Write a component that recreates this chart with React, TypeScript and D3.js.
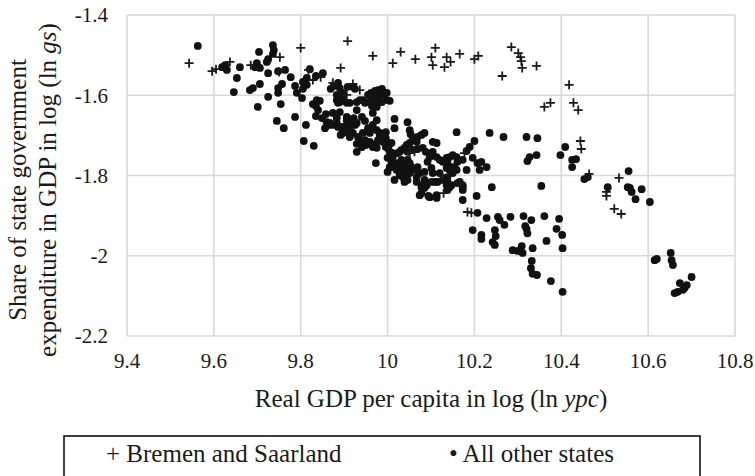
import React from "react";
import * as d3 from "d3";

// axis ticks
const xTicks = [9.4, 9.6, 9.8, 10, 10.2, 10.4, 10.6, 10.8];
const yTicks = [-1.4, -1.6, -1.8, -2, -2.2];

// [ln ypc, ln gs] for Bremen and Saarland
const bremenSaarland: [number, number][] = [
  [9.543, -1.52], [9.596, -1.54], [9.605, -1.535], [9.637, -1.517], [9.685, -1.525],
  [9.752, -1.505], [9.75, -1.542], [9.8, -1.482], [9.818, -1.537], [9.846, -1.555],
  [9.828, -1.562], [9.892, -1.532], [9.908, -1.465], [9.874, -1.569], [9.92, -1.572],
  [9.936, -1.587], [9.906, -1.599], [9.966, -1.502], [10.012, -1.52], [10.03, -1.492],
  [10.064, -1.51], [10.101, -1.505], [10.11, -1.482], [10.104, -1.525], [10.131, -1.53],
  [10.136, -1.505], [10.145, -1.517], [10.166, -1.497], [10.2, -1.51], [10.209, -1.502],
  [10.285, -1.48], [10.301, -1.495], [10.306, -1.505], [10.308, -1.515], [10.31, -1.532],
  [10.343, -1.527], [10.264, -1.552], [10.418, -1.574], [10.361, -1.629], [10.375, -1.619],
  [10.428, -1.619], [10.439, -1.637], [10.444, -1.714], [10.446, -1.734], [10.464, -1.796],
  [10.533, -1.806], [10.504, -1.841], [10.504, -1.851], [10.522, -1.883], [10.538, -1.896],
  [10.051, -1.744], [10.062, -1.741], [10.177, -1.744], [10.125, -1.799], [10.168, -1.819],
  [10.129, -1.844], [10.184, -1.891], [10.193, -1.893],
];

// [ln ypc, ln gs] for all other states
const otherStates: [number, number][] = [
  [9.563, -1.477], [9.626, -1.525], [9.63, -1.537], [9.619, -1.53], [9.66, -1.53],
  [9.653, -1.557], [9.646, -1.592], [9.683, -1.587], [9.69, -1.582], [9.706, -1.572],
  [9.704, -1.492], [9.699, -1.52], [9.695, -1.53], [9.706, -1.532], [9.736, -1.475],
  [9.738, -1.487], [9.736, -1.497], [9.725, -1.51], [9.722, -1.517], [9.725, -1.545],
  [9.748, -1.54], [9.764, -1.537], [9.757, -1.572], [9.748, -1.594], [9.725, -1.604],
  [9.754, -1.622], [9.701, -1.629], [9.745, -1.664], [9.761, -1.682], [9.787, -1.654],
  [9.812, -1.674], [9.807, -1.714], [9.83, -1.726], [9.777, -1.555], [9.787, -1.577],
  [9.791, -1.594], [9.803, -1.607], [9.805, -1.567], [9.814, -1.574], [9.814, -1.557],
  [9.821, -1.535], [9.835, -1.552], [9.828, -1.622], [9.835, -1.652], [9.84, -1.637],
  [9.748, -1.582], [9.805, -1.584], [9.851, -1.545], [9.837, -1.612], [9.844, -1.614],
  [9.835, -1.627], [9.849, -1.657], [9.858, -1.647], [9.86, -1.667], [9.856, -1.682],
  [9.865, -1.674], [9.874, -1.674], [9.874, -1.644], [9.883, -1.657], [9.869, -1.584],
  [9.876, -1.577], [9.886, -1.569], [9.89, -1.582], [9.897, -1.594], [9.897, -1.607],
  [9.89, -1.617], [9.883, -1.612], [9.906, -1.619], [9.908, -1.579], [9.92, -1.579],
  [9.925, -1.584], [9.89, -1.642], [9.906, -1.654], [9.906, -1.674], [9.915, -1.669],
  [9.925, -1.674], [9.922, -1.657], [9.908, -1.692], [9.892, -1.699], [9.895, -1.679],
  [9.913, -1.704], [9.92, -1.694], [9.932, -1.704], [9.943, -1.694], [9.948, -1.712],
  [9.959, -1.694], [9.955, -1.682], [9.966, -1.674], [9.948, -1.664], [9.941, -1.654],
  [9.975, -1.662], [9.929, -1.721], [9.929, -1.741], [9.941, -1.729], [9.95, -1.724],
  [9.973, -1.769], [9.973, -1.721], [9.978, -1.712], [9.982, -1.699], [9.989, -1.716],
  [9.996, -1.692], [9.996, -1.707], [10.009, -1.719], [9.996, -1.729], [10.002, -1.734],
  [9.943, -1.612], [9.957, -1.617], [9.966, -1.612], [9.962, -1.594], [9.971, -1.589],
  [9.978, -1.587], [9.987, -1.584], [9.982, -1.599], [9.98, -1.612], [9.991, -1.599],
  [9.998, -1.594], [10.0, -1.612], [10.005, -1.614], [9.964, -1.627], [9.975, -1.629],
  [9.966, -1.644], [10.016, -1.659], [10.016, -1.682], [10.046, -1.667], [10.051, -1.687],
  [10.053, -1.697], [10.012, -1.754], [10.023, -1.769], [10.005, -1.779], [10.0, -1.791],
  [10.028, -1.786], [10.016, -1.811], [10.039, -1.816], [10.028, -1.799], [10.044, -1.794],
  [10.055, -1.779], [10.046, -1.761], [10.028, -1.741], [10.039, -1.731], [10.051, -1.719],
  [10.058, -1.712], [10.074, -1.849], [9.867, -1.669], [9.883, -1.669], [9.886, -1.679],
  [9.895, -1.682], [9.897, -1.694], [9.913, -1.682], [9.918, -1.669], [9.906, -1.662],
  [9.92, -1.662], [9.929, -1.669], [9.883, -1.599], [9.886, -1.619], [9.913, -1.619],
  [9.929, -1.617], [9.936, -1.612], [9.948, -1.619], [9.955, -1.599], [9.973, -1.607],
  [9.978, -1.619], [9.987, -1.617], [9.929, -1.637], [9.959, -1.687], [9.975, -1.687],
  [9.982, -1.694], [9.991, -1.697], [9.936, -1.712], [9.959, -1.716], [9.966, -1.729],
  [9.975, -1.731], [9.987, -1.712], [9.998, -1.724], [10.062, -1.707], [10.069, -1.704],
  [10.078, -1.699], [10.085, -1.694], [10.044, -1.724], [10.032, -1.736], [10.023, -1.744],
  [10.012, -1.744], [10.005, -1.741], [10.0, -1.756], [10.009, -1.766], [10.012, -1.779],
  [10.021, -1.774], [10.028, -1.769], [10.021, -1.786], [10.035, -1.804], [10.046, -1.811],
  [10.051, -1.794], [10.044, -1.786], [10.039, -1.774], [10.032, -1.761], [10.051, -1.769],
  [10.062, -1.786], [10.067, -1.804], [10.074, -1.794], [10.069, -1.779], [10.085, -1.791],
  [10.085, -1.811], [10.092, -1.766], [10.101, -1.781], [10.104, -1.794], [10.101, -1.816],
  [10.081, -1.824], [10.078, -1.844], [10.09, -1.824], [10.097, -1.854], [10.113, -1.849],
  [10.115, -1.816], [10.12, -1.794], [10.046, -1.741], [10.058, -1.736], [10.069, -1.734],
  [10.081, -1.731], [10.088, -1.741], [10.104, -1.716], [10.113, -1.719], [10.067, -1.716],
  [10.113, -1.754], [10.12, -1.761], [10.127, -1.766], [10.136, -1.756], [10.143, -1.754],
  [10.15, -1.749], [10.159, -1.754], [10.138, -1.769], [10.147, -1.779], [10.136, -1.781],
  [10.143, -1.786], [10.154, -1.779], [10.161, -1.766], [10.159, -1.786], [10.15, -1.794],
  [10.138, -1.804], [10.127, -1.811], [10.138, -1.816], [10.147, -1.824], [10.161, -1.819],
  [10.173, -1.824], [10.182, -1.786], [10.173, -1.761], [10.196, -1.756], [10.2, -1.714],
  [10.189, -1.729], [10.159, -1.692], [10.136, -1.824], [10.094, -1.851], [10.113, -1.856],
  [10.173, -1.861], [10.205, -1.851], [10.235, -1.694], [10.267, -1.704], [10.32, -1.704],
  [10.345, -1.707], [10.327, -1.754], [10.322, -1.764], [10.343, -1.749], [10.409, -1.729],
  [10.398, -1.749], [10.425, -1.761], [10.434, -1.759], [10.425, -1.779], [10.453, -1.809],
  [10.207, -1.769], [10.216, -1.766], [10.228, -1.779], [10.212, -1.786], [10.354, -1.826],
  [10.24, -1.829], [10.207, -1.893], [10.228, -1.906], [10.254, -1.903], [10.258, -1.911],
  [10.269, -1.923], [10.283, -1.903], [10.313, -1.901], [10.331, -1.911], [10.361, -1.901],
  [10.395, -1.908], [10.196, -1.936], [10.216, -1.948], [10.216, -1.958], [10.247, -1.936],
  [10.249, -1.951], [10.242, -1.966], [10.247, -1.973], [10.317, -1.926], [10.322, -1.944],
  [10.32, -1.933], [10.389, -1.933], [10.402, -1.948], [10.366, -1.963], [10.334, -1.981],
  [10.288, -1.986], [10.3, -1.988], [10.311, -1.993], [10.309, -1.976], [10.403, -1.981],
  [10.332, -2.013], [10.33, -2.031], [10.334, -2.045], [10.344, -2.048], [10.376, -2.063],
  [10.403, -2.09], [10.173, -1.829], [10.173, -1.836], [10.143, -1.829], [10.138, -1.836],
  [10.085, -1.831], [10.461, -1.804], [10.507, -1.829], [10.555, -1.789], [10.553, -1.829],
  [10.558, -1.831], [10.562, -1.841], [10.585, -1.834], [10.571, -1.859], [10.604, -1.866],
  [10.615, -2.011], [10.62, -2.008], [10.652, -1.993], [10.654, -2.011], [10.657, -2.023],
  [10.7, -2.053], [10.689, -2.073], [10.673, -2.068], [10.68, -2.085], [10.661, -2.093],
  [10.668, -2.09], [10.684, -2.08], [10.067, -1.816], [10.09, -1.819], [10.109, -1.816],
  [10.166, -1.816], [10.078, -1.829], [10.097, -1.754], [10.104, -1.741], [10.182, -1.739],
];

const W = 755;
const H = 476;
const m = { left: 127, right: 735, top: 15, bottom: 336 };
const font = '"Liberation Serif", "DejaVu Serif", serif';
const ink = "#1a1a1a";

export default function App() {
  const x = d3.scaleLinear().domain([9.4, 10.8]).range([m.left, m.right]);
  const y = d3.scaleLinear().domain([-2.2, -1.4]).range([m.bottom, m.top]);
  const cs = 4.5; // half size of the + marker

  return (
    <svg width={W} height={H}
      style={{ position: "absolute", left: 0, top: 0, background: "#fff", fontFamily: font }}>
      {/* grid */}
      <g stroke="#d9d9d9" strokeWidth={1.6}>
        {xTicks.map(t => <line key={"gx" + t} x1={x(t)} x2={x(t)} y1={m.top} y2={m.bottom} />)}
        {yTicks.map(t => <line key={"gy" + t} x1={m.left} x2={m.right} y1={y(t)} y2={y(t)} />)}
      </g>

      {/* tick labels */}
      <g fill={ink} fontSize={21} style={{ fontFamily: font }}>
        {yTicks.map(t => (
          <text key={"ty" + t} x={m.left - 19} y={y(t)} dy="0.35em" textAnchor="end">{String(t)}</text>
        ))}
        {xTicks.map(t => (
          <text key={"tx" + t} x={x(t)} y={368} textAnchor="middle">{String(t)}</text>
        ))}
      </g>

      {/* points */}
      <g fill="#111">
        {otherStates.map((d, i) => <circle key={"o" + i} cx={x(d[0])} cy={y(d[1])} r={3.9} />)}
      </g>
      <g stroke="#1a1a1a" strokeWidth={1.8}>
        {bremenSaarland.map((d, i) => {
          const px = x(d[0]), py = y(d[1]);
          return (
            <path key={"b" + i} d={`M${px - cs},${py}H${px + cs}M${px},${py - cs}V${py + cs}`} />
          );
        })}
      </g>

      {/* axis titles */}
      <text x={(m.left + m.right) / 2} y={407} textAnchor="middle" fontSize={25} fill={ink}
        style={{ fontFamily: font }}>
        Real GDP per capita in log (ln <tspan fontStyle="italic">ypc</tspan>)
      </text>
      <g transform="translate(0,190) rotate(-90)" fill={ink} fontSize={25} textAnchor="middle"
        style={{ fontFamily: font }}>
        <text x={0} y={26}>Share of state government</text>
        <text x={0} y={56}>
          expenditure in GDP in log (ln <tspan fontStyle="italic">gs</tspan>)
        </text>
      </g>

      {/* legend */}
      <rect x={64} y={436} width={636} height={60} fill="none" stroke="#000" strokeWidth={1.5} />
      <g fill={ink} fontSize={25} style={{ fontFamily: font }}>
        <text x={106} y={462}>+ Bremen and Saarland</text>
        <text x={449} y={462}>• All other states</text>
      </g>
    </svg>
  );
}
